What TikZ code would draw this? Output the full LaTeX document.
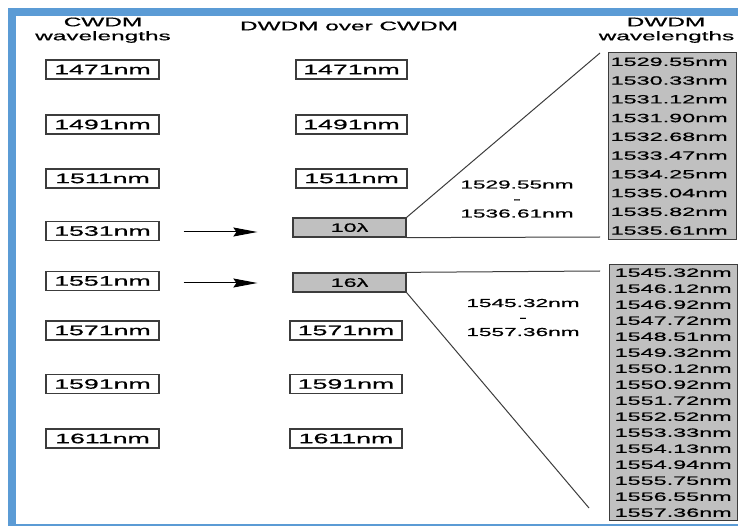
\documentclass[tikz,border=0pt]{standalone}
\usepackage{fontspec}
\setmainfont{Liberation Sans}
\newfontfamily\widesans[FakeStretch=1.95,FakeBold=0.7]{Liberation Sans}
\usetikzlibrary{arrows.meta}
\definecolor{frameblue}{RGB}{91,155,213}
\definecolor{boxgray}{RGB}{192,192,192}
\definecolor{edgegray}{RGB}{60,60,60}

\begin{document}
\begin{tikzpicture}[x=1pt,y=-1pt,
  hdr/.style={inner sep=0pt, font=\widesans\fontsize{12.5}{15}\selectfont},
  wlbox/.style={draw=edgegray, line width=1.3pt, fill=white, minimum width=#1, minimum height=19pt,
    inner sep=0pt, font=\widesans\fontsize{13.7}{14}\selectfont},
  wlbox/.default=113pt,
  bandbox/.style={draw=edgegray, line width=1.3pt, fill=boxgray, minimum width=113pt, minimum height=19pt,
    inner sep=0pt, font=\widesans\fontsize{12}{14}\selectfont},
  listbox/.style={draw=edgegray, line width=1.3pt, fill=boxgray, anchor=north west, align=left,
    inner ysep=0pt, inner xsep=#1, font=\widesans\fontsize{12}{18.75}\selectfont},
  rangelbl/.style={align=center, inner sep=0pt, font=\widesans\fontsize{11.6}{14.5}\selectfont},
  link/.style={draw=edgegray, line width=1pt},
  feed/.style={draw=black, line width=1pt, -{Stealth[length=24pt,width=9pt,inset=3pt]}}
]
\useasboundingbox (0,0) rectangle (738,526);
\clip (0,0) rectangle (738,526);

% outer frame
\draw[frameblue, line width=8pt] (12,12) rectangle (770,527.5);

% column headings
\node[hdr] (hc1) at (103,22) {CWDM};
\node[hdr] (hc2) at (103,37) {wavelengths};
\node[hdr] (hm) at (349,26) {DWDM over CWDM};
\node[hdr] (hd1) at (666,22) {DWDM};
\node[hdr] (hd2) at (666.5,37) {wavelengths};

% CWDM channels
\node[wlbox] (c1) at (102.5,69.5) {1471nm};
\node[wlbox] (c2) at (102.5,124.5) {1491nm};
\node[wlbox] (c3) at (102.5,178.5) {1511nm};
\node[wlbox] (c4) at (102.5,231) {1531nm};
\node[wlbox] (c5) at (102.5,281) {1551nm};
\node[wlbox] (c6) at (102.5,330.5) {1571nm};
\node[wlbox] (c7) at (102.5,384) {1591nm};
\node[wlbox] (c8) at (102.5,438.5) {1611nm};

% DWDM over CWDM
\node[wlbox=111pt] (m1) at (351.5,69.5) {1471nm};
\node[wlbox=111pt] (m2) at (351.5,124.5) {1491nm};
\node[wlbox=111pt] (m3) at (351.5,178.5) {1511nm};
\node[bandbox] (m4) at (349.5,227.5) {10λ};
\node[bandbox] (m5) at (349.5,282.5) {16λ};
\node[wlbox=112pt] (m6) at (346,330.5) {1571nm};
\node[wlbox=112pt] (m7) at (346,384) {1591nm};
\node[wlbox=112pt] (m8) at (346,438.5) {1611nm};

% feeds into the DWDM bands
\draw[feed] ([xshift=24pt]c4.east |- 0,232) -- ([xshift=-35pt]m4.west |- 0,232);
\draw[feed] ([xshift=24pt]c5.east |- 0,283) -- ([xshift=-35pt]m5.west |- 0,283);

% DWDM channel lists
\node[listbox=2pt, text width=124pt, minimum height=187pt] (d1) at (608,52)
  {1529.55nm\\1530.33nm\\1531.12nm\\1531.90nm\\1532.68nm\\1533.47nm\\1534.25nm\\1535.04nm\\1535.82nm\\1535.61nm};
\node[listbox=5pt, text width=118pt, minimum height=256pt, font=\widesans\fontsize{12}{16}\selectfont] (d2) at (609,264)
  {1545.32nm\\1546.12nm\\1546.92nm\\1547.72nm\\1548.51nm\\1549.32nm\\1550.12nm\\1550.92nm\\1551.72nm\\1552.52nm\\1553.33nm\\1554.13nm\\1554.94nm\\1555.75nm\\1556.55nm\\1557.36nm};

% fan-out lines
\coordinate (t1) at (600,53);
\coordinate (t2) at (600,237);
\coordinate (t3) at (600,271);
\coordinate (t4) at (589,508);
\draw[link] (m4.north east) -- (t1);
\draw[link] (m4.south east) -- (t2);
\draw[link] (m5.north east) -- (t3);
\draw[link] (m5.south east) -- (t4);

% band ranges
\node[rangelbl] (r1) at (517,199) {1529.55nm\\-\\1536.61nm};
\node[rangelbl] (r2) at (523,317.5) {1545.32nm\\-\\1557.36nm};
\end{tikzpicture}
\end{document}
